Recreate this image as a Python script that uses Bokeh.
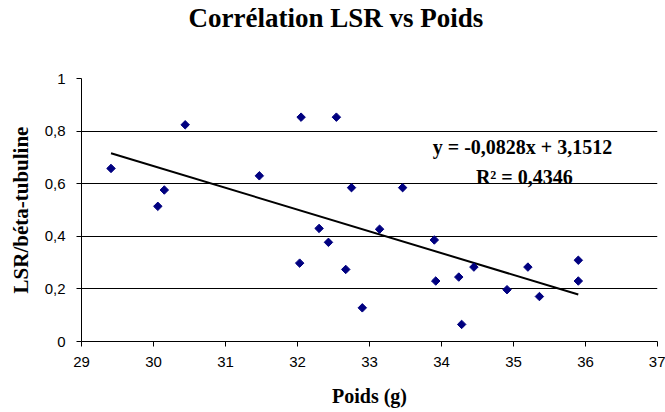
from bokeh.plotting import figure
from bokeh.models import Range1d, FixedTicker, CustomJSTickFormatter, Label, ColumnDataSource, Title
from bokeh.embed import file_html
from bokeh.resources import INLINE
import math

# Data
poids = [29.41, 30.06, 30.15, 30.44, 31.47, 32.03, 32.05, 32.30, 32.43, 32.54,
         32.67, 32.75, 32.90, 33.14, 33.46, 33.90, 33.92, 34.24, 34.28, 34.45,
         34.91, 35.20, 35.36, 35.90, 35.90]
lsr = [0.658, 0.514, 0.576, 0.824, 0.630, 0.298, 0.853, 0.430, 0.377, 0.853,
       0.274, 0.585, 0.128, 0.427, 0.585, 0.386, 0.230, 0.245, 0.065, 0.283,
       0.197, 0.283, 0.171, 0.309, 0.230]
slope = -0.0828
intercept = 3.1512
r2 = 0.4346
x_ticks = [29, 30, 31, 32, 33, 34, 35, 36, 37]
y_ticks = [0, 0.2, 0.4, 0.6, 0.8, 1.0]

serif = "Liberation Serif"
sans = "Liberation Sans"

p = figure(width=665, height=412, output_backend="svg", toolbar_location=None,
           x_range=Range1d(29, 37), y_range=Range1d(0, 1),
           min_border_left=81, min_border_right=8, min_border_top=78, min_border_bottom=71)
p.outline_line_color = None
p.background_fill_color = "white"
p.border_fill_color = "white"

# real title (placed next to the frame), then a blank spacer title outside it
p.title.text = "Corrélation LSR vs Poids"
p.title.align = "left"
p.title.offset = 107
p.title.vertical_align = "top"
p.title.standoff = 0
p.title.text_font = serif
p.title.text_font_style = "bold"
p.title.text_font_size = "27px"
p.title.text_color = "black"
p.add_layout(Title(text=" ", text_font_size="10px", standoff=31), "above")

# grid
p.xgrid.grid_line_color = None
p.ygrid.grid_line_color = "black"
p.ygrid.grid_line_width = 1
p.ygrid.ticker = FixedTicker(ticks=y_ticks)

fmt = CustomJSTickFormatter(code="return (Math.round(tick*10)/10).toString().replace('.', ',');")

p.xaxis.ticker = FixedTicker(ticks=x_ticks)
p.yaxis.ticker = FixedTicker(ticks=y_ticks)
p.yaxis.formatter = fmt
for ax in (p.xaxis, p.yaxis):
    ax.axis_line_color = "black"
    ax.major_tick_line_color = "black"
    ax.major_tick_out = 5
    ax.major_tick_in = 0
    ax.minor_tick_line_color = None
    ax.major_label_text_font = sans
    ax.major_label_text_font_size = "15px"
    ax.major_label_text_color = "black"
    ax.axis_label_text_font = serif
    ax.axis_label_text_font_style = "bold"
    ax.axis_label_text_color = "black"

p.xaxis.axis_label = "Poids (g)"
p.xaxis.axis_label_text_font_size = "20px"
p.xaxis.major_label_standoff = 10
p.xaxis.axis_label_standoff = 15
p.yaxis.axis_label = "LSR/béta-tubuline"
p.yaxis.axis_label_text_font_size = "21px"
p.yaxis.major_label_standoff = 11
p.yaxis.axis_label_standoff = 9

# trend line
x_line = [min(poids), max(poids)]
y_line = [slope * v + intercept for v in x_line]
p.line(x_line, y_line, line_color="black", line_width=2)

# points
src = ColumnDataSource(dict(x=poids, y=lsr))
p.scatter("x", "y", source=src, marker="square", size=6, angle=math.pi / 4,
          fill_color="#000080", line_color="#000080")

eq = "y = " + f"{slope:.4f}".replace(".", ",") + "x + " + f"{intercept:.4f}".replace(".", ",")
r2t = "R² = " + f"{r2:.4f}".replace(".", ",")
p.add_layout(Label(x=35.125, y=0.741, text=eq, text_font=serif, text_font_style="bold",
                   text_font_size="20px", text_align="center", text_baseline="middle",
                   text_color="black"))
p.add_layout(Label(x=35.15, y=0.627, text=r2t, text_font=serif, text_font_style="bold",
                   text_font_size="20px", text_align="center", text_baseline="middle",
                   text_color="black"))

open("out.html", "w").write(file_html(p, INLINE))
